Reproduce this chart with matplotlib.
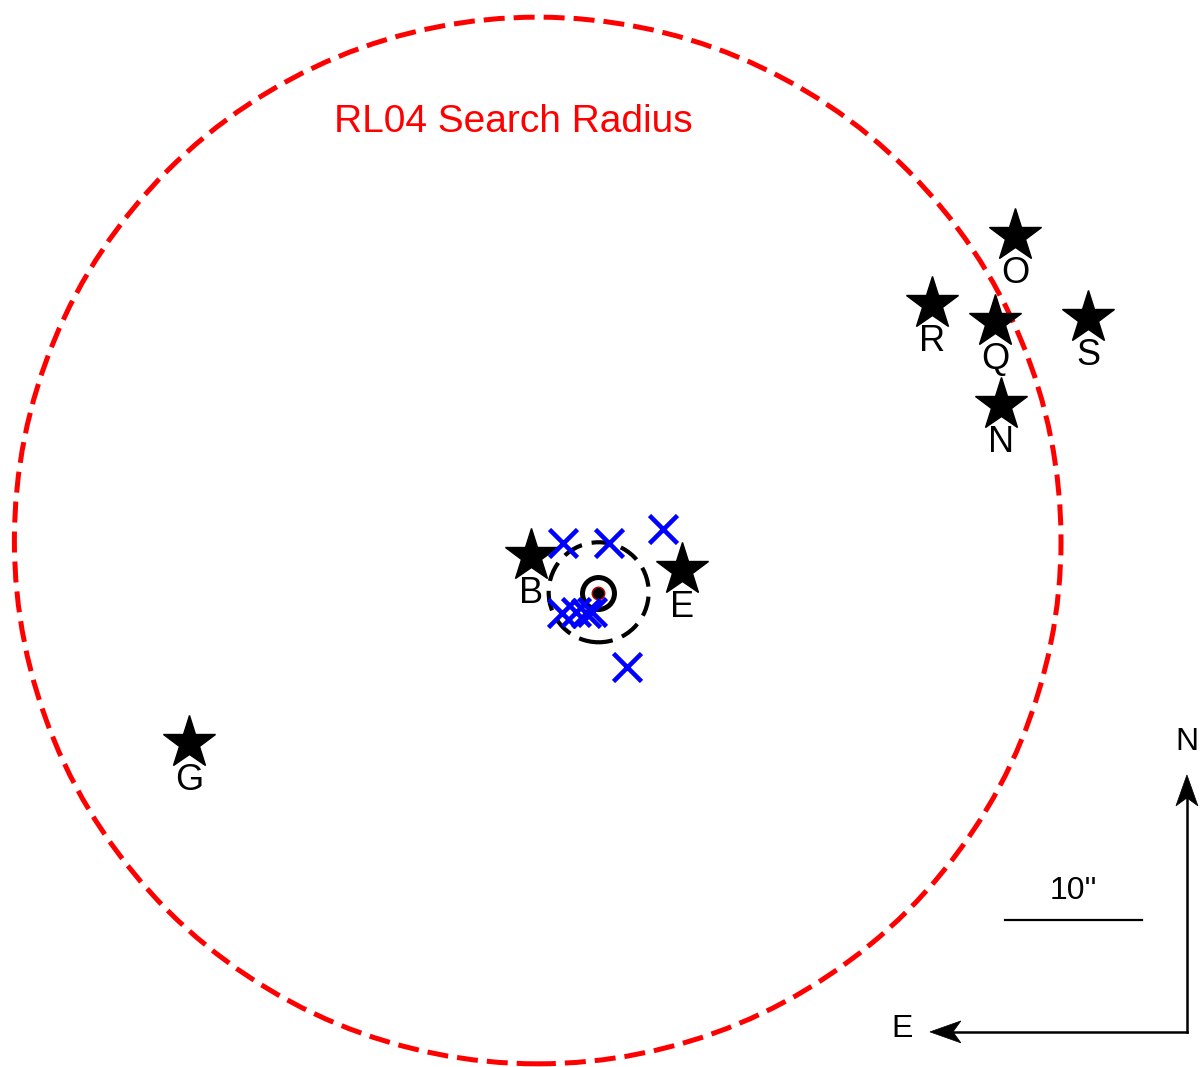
import matplotlib

matplotlib.use("Agg")
import matplotlib.pyplot as plt
import numpy as np
from matplotlib.patches import Circle, Polygon

plt.rcParams["font.family"] = ["Liberation Sans", "DejaVu Sans"]

# Offsets from the target in arcsec (east positive, north positive)
star_names = ["B", "E", "G", "O", "R", "Q", "S", "N"]
star_dra = [4.89, -6.13, 29.85, -30.44, -24.38, -28.98, -35.77, -29.42]
star_ddec = [2.70, 1.68, -10.95, 26.06, 21.09, 19.78, 20.07, 13.72]

xray_dra = [2.55, -0.80, -4.74, -2.12, 2.63, 1.61, 0.88, 0.44]
xray_ddec = [3.65, 3.65, 4.67, -5.40, -1.46, -1.39, -1.46, -1.39]

search_center = (4.40, 3.83)
search_radius = 38.2
error_radius = 3.65

scale_len = 10.0
compass_len = 18.76


def arrow_head(ax, tip, direction, length=2.26, half_width=0.80, notch=1.68):
    tip = np.asarray(tip, dtype=float)
    d = np.asarray(direction, dtype=float)
    d = d / np.hypot(*d)
    n = np.array([-d[1], d[0]])
    back = tip - d * length
    pts = [tip, back + n * half_width, tip - d * notch, back - n * half_width]
    ax.add_patch(Polygon(pts, closed=True, facecolor="black", edgecolor="black", lw=0.5, zorder=6))


fig = plt.figure(figsize=(12.02, 10.67), dpi=100)
ax = fig.add_axes([0, 0, 1, 1])
ax.set_xlim(43.65, -44.09)
ax.set_ylim(-34.60, 43.28)
ax.set_aspect("equal")
ax.axis("off")

# search circle and positional error circle
ax.add_patch(Circle(search_center, search_radius, fill=False, edgecolor="red",
                    lw=3.6, linestyle=(0, (4.2, 1.8)), zorder=2))
ax.text(6.20, 34.38, "RL04 Search Radius", color="red", fontsize=28,
        ha="center", va="center")
ax.add_patch(Circle((-0.05, 0.05), error_radius, fill=False, edgecolor="black",
                    lw=3.0, linestyle=(0, (4.8, 2.4)), zorder=3))

# target
ax.plot(0, 0, "o", ms=23, mfc="none", mec="black", mew=3.6, zorder=4)
ax.plot(0, 0, "o", ms=9, mfc="black", mec="#c00000", mew=1.0, zorder=5)

# x-ray sources
ax.plot(xray_dra, xray_ddec, "x", ms=20, mew=3.3, color="#0000ff", ls="none", zorder=5)

# optical stars
ax.plot(star_dra, star_ddec, "*", ms=40, color="black", ls="none", zorder=4)
for name, x, y in zip(star_names, star_dra, star_ddec):
    ax.annotate(name, (x, y), xytext=(0, -27), textcoords="offset points",
                ha="center", va="center", fontsize=26)

# scale bar
sb_x0, sb_y = -29.71, -23.87
ax.plot([sb_x0, sb_x0 - scale_len], [sb_y, sb_y], color="black", lw=1.6)
ax.annotate("10''", (sb_x0 - scale_len / 2, sb_y), xytext=(0, 21),
            textcoords="offset points", ha="center", va="center", fontsize=23)

# compass
cx, cy = -42.99, -32.04
ax.plot([cx, cx], [cy, cy + compass_len - 1.5], color="black", lw=1.8, zorder=5)
ax.plot([cx, cx + compass_len - 1.5], [cy, cy], color="black", lw=1.8, zorder=5)
arrow_head(ax, (cx, cy + compass_len), (0, 1))
arrow_head(ax, (cx + compass_len, cy), (1, 0))
ax.annotate("N", (cx, cy + compass_len), xytext=(0, 24), textcoords="offset points",
            ha="center", va="center", fontsize=23)
ax.annotate("E", (cx + compass_len, cy), xytext=(-20, 2), textcoords="offset points",
            ha="center", va="center", fontsize=23)

fig.savefig("out.png", dpi=100)
